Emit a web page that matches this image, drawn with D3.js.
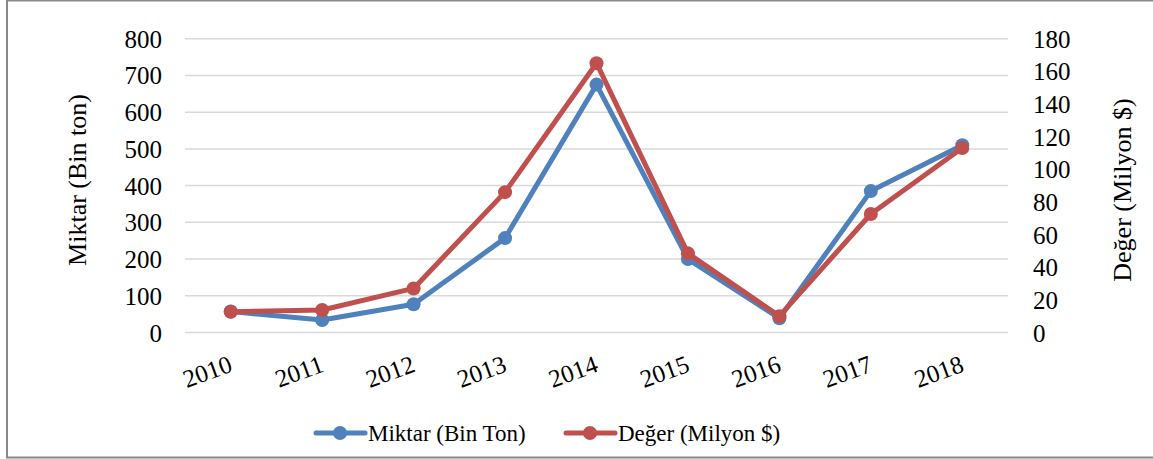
<!DOCTYPE html>
<html>
<head>
<meta charset="utf-8">
<script src="https://cdn.jsdelivr.net/npm/d3@7"></script>
<style>
  body { margin: 0; background: #fff; }
</style>
</head>
<body>
<svg id="chart" width="1153" height="459"></svg>
<script>
var years = ['2010','2011','2012','2013','2014','2015','2016','2017','2018'];
var miktar = [57, 34, 77, 257, 675, 200, 39, 385, 510];
var deger = [12.7, 13.8, 27, 86, 165, 48.5, 10, 72.6, 113];
var leftTicks = [0,100,200,300,400,500,600,700,800];
var rightTicks = [0,20,40,60,80,100,120,140,160,180];

var blue = '#4F81BD', red = '#C0504D';
var serif = 'Liberation Serif';
var svg = d3.select('#chart');

// outer frame
svg.append('rect')
  .attr('x', 7).attr('y', 0.5).attr('width', 1160).attr('height', 457)
  .attr('fill', 'none').attr('stroke', '#888').attr('stroke-width', 2);

var x = d3.scalePoint().domain(years).range([185, 1008]).padding(0.5);
var yL = d3.scaleLinear().domain([0, 800]).range([332.5, 38.7]);
var yR = d3.scaleLinear().domain([0, 180]).range([332.5, 38.7]);

// gridlines
svg.append('g').selectAll('line').data(leftTicks).enter().append('line')
  .attr('x1', 185).attr('x2', 1008)
  .attr('y1', function(d){ return yL(d); }).attr('y2', function(d){ return yL(d); })
  .attr('stroke', '#d9d9d9').attr('stroke-width', 1.5);

// left axis
var axL = svg.append('g').attr('transform', 'translate(175,0)')
  .call(d3.axisLeft(yL).tickValues(leftTicks).tickSize(0).tickPadding(13));
axL.select('.domain').remove();
axL.attr('font-family', serif).attr('font-size', 25);
axL.selectAll('text').attr('dy', '0.34em').attr('fill', '#000');

// right axis
var axR = svg.append('g').attr('transform', 'translate(1020,0)')
  .call(d3.axisRight(yR).tickValues(rightTicks).tickSize(0).tickPadding(13));
axR.select('.domain').remove();
axR.attr('font-family', serif).attr('font-size', 25);
axR.selectAll('text').attr('dy', '0.34em').attr('fill', '#000');

// x labels
svg.append('g').selectAll('text').data(years).enter().append('text')
  .attr('transform', function(d){ return 'translate(' + (x(d) + 3) + ',371) rotate(-20)'; })
  .attr('text-anchor', 'end')
  .attr('font-family', serif).attr('font-size', 25)
  .text(function(d){ return d; });

// axis titles
svg.append('text')
  .attr('transform', 'translate(86,180) rotate(-90)')
  .attr('text-anchor', 'middle').attr('font-family', serif).attr('font-size', 26)
  .text('Miktar (Bin ton)');
svg.append('text')
  .attr('transform', 'translate(1131,190) rotate(-90)')
  .attr('text-anchor', 'middle').attr('font-family', serif).attr('font-size', 26)
  .text('Değer (Milyon $)');

// series
function drawSeries(vals, scale, color) {
  var line = d3.line()
    .x(function(d, i){ return x(years[i]); })
    .y(function(d){ return scale(d); });
  svg.append('path').datum(vals)
    .attr('d', line).attr('fill', 'none')
    .attr('stroke', color).attr('stroke-width', 5).attr('stroke-linejoin', 'round');
  svg.append('g').selectAll('circle').data(vals).enter().append('circle')
    .attr('cx', function(d, i){ return x(years[i]); })
    .attr('cy', function(d){ return scale(d); })
    .attr('r', 7).attr('fill', color);
}
drawSeries(miktar, yL, blue);
drawSeries(deger, yR, red);

// legend
var legend = [
  { name: 'Miktar (Bin Ton)', color: blue, x0: 316 },
  { name: 'Değer (Milyon $)', color: red, x0: 566 }
];
var lg = svg.append('g').selectAll('g').data(legend).enter().append('g')
  .attr('transform', function(d){ return 'translate(' + d.x0 + ',433)'; });
lg.append('line').attr('x1', 0).attr('x2', 49).attr('y1', 0).attr('y2', 0)
  .attr('stroke', function(d){ return d.color; }).attr('stroke-width', 5).attr('stroke-linecap', 'round');
lg.append('circle').attr('cx', 24).attr('cy', 0).attr('r', 7)
  .attr('fill', function(d){ return d.color; });
lg.append('text').attr('x', 52).attr('y', 0).attr('dy', '0.34em')
  .attr('font-family', serif).attr('font-size', 23)
  .text(function(d){ return d.name; });
</script>
</body>
</html>
